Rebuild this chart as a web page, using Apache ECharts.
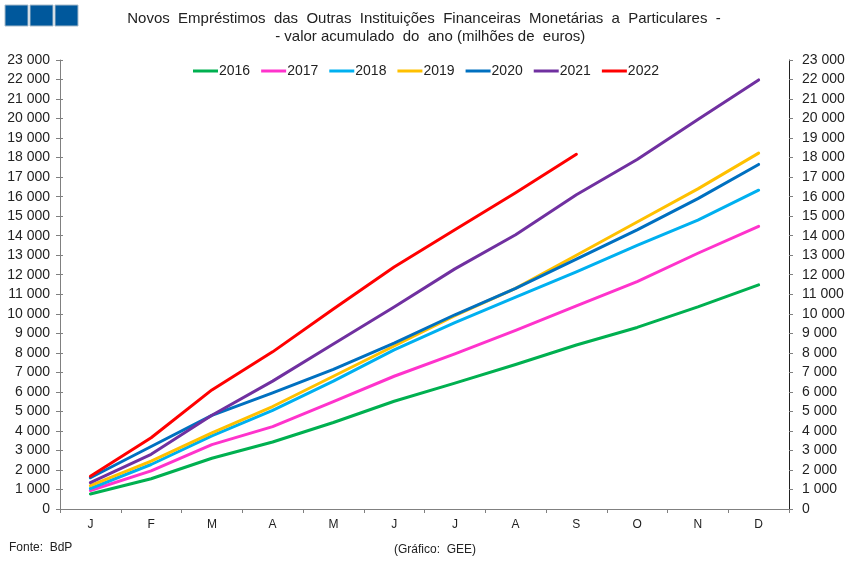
<!DOCTYPE html>
<html>
<head>
<meta charset="utf-8">
<style>html,body{margin:0;padding:0;background:#fff}#chart{width:850px;height:562px}</style>
<script src="https://cdn.jsdelivr.net/npm/echarts@6/dist/echarts.min.js"></script>
</head>
<body>
<div id="chart"></div>
<script>
// dados (milhoes de euros)
const months = ['J', 'F', 'M', 'A', 'M', 'J', 'J', 'A', 'S', 'O', 'N', 'D'];
const y2016 = [770, 1550, 2600, 3430, 4430, 5520, 6450, 7400, 8400, 9300, 10350, 11480];
const y2017 = [950, 1950, 3300, 4220, 5500, 6800, 7950, 9150, 10400, 11650, 13100, 14480];
const y2018 = [1050, 2280, 3750, 5050, 6550, 8150, 9550, 10850, 12150, 13500, 14800, 16330];
const y2019 = [1200, 2450, 3900, 5250, 6800, 8350, 9900, 11300, 13000, 14700, 16400, 18230];
const y2020 = [1600, 3200, 4800, 5950, 7150, 8500, 9950, 11300, 12800, 14300, 15900, 17650];
const y2021 = [1350, 2800, 4800, 6550, 8450, 10350, 12300, 14050, 16100, 17900, 19950, 21980];
const y2022 = [1680, 3650, 6100, 8050, 10250, 12400, 14300, 16200, 18170];
const seriesNames = ['2016', '2017', '2018', '2019', '2020', '2021', '2022'];
const seriesData = [y2016, y2017, y2018, y2019, y2020, y2021, y2022];
const colors = ['#00b050', '#ff33cc', '#00b0f0', '#ffc000', '#0070c0', '#7030a0', '#ff0000'];

const font = '"Liberation Sans", Arial, sans-serif';
const textColor = '#222';
const fmt = (v) => String(v).replace(/\B(?=(\d{3})+$)/g, ' ');

const myChart = echarts.init(document.getElementById('chart'), null, {renderer: 'canvas'});

const valueAxis = (position, color, margin) => ({
  type: 'value',
  position,
  min: 0,
  max: 23000,
  interval: 1000,
  splitLine: {show: false},
  axisLine: {show: true, onZero: false, lineStyle: {color, width: 1}},
  axisTick: {show: true, length: 4, lineStyle: {color: '#808080'}},
  axisLabel: {color: textColor, fontFamily: font, fontSize: 14, margin, formatter: fmt}
});

const option = {
  animation: false,
  backgroundColor: '#fff',
  color: colors,
  title: {
    // espacos duplos: o original tem as palavras mais afastadas
    text: 'Novos  Empréstimos  das  Outras  Instituições  Financeiras  Monetárias  a  Particulares  -\n   - valor acumulado  do  ano (milhões de  euros)',
    left: 419,
    top: 5,
    textAlign: 'center',
    textStyle: {color: textColor, fontFamily: font, fontSize: 15, fontWeight: 'normal', lineHeight: 18}
  },
  legend: {
    left: 188,
    top: 59,
    itemWidth: 25,
    itemHeight: 3,
    itemGap: 11,
    icon: 'rect',
    textStyle: {color: textColor, fontFamily: font, fontSize: 14, padding: [0, 0, 0, -4]},
    data: seriesNames
  },
  grid: {left: 60, right: 61, top: 60, bottom: 53},
  xAxis: {
    type: 'category',
    data: months,
    boundaryGap: true,
    axisLine: {lineStyle: {color: '#808080'}},
    axisTick: {show: true, length: 4, alignWithLabel: false, lineStyle: {color: '#808080'}},
    axisLabel: {color: textColor, fontFamily: font, fontSize: 12, margin: 10, interval: 0}
  },
  yAxis: [
    valueAxis('left', '#808080', 10),
    valueAxis('right', '#222', 13),
    // so para os tracos da esquerda cruzarem o eixo
    {
      type: 'value',
      position: 'left',
      min: 0,
      max: 23000,
      interval: 1000,
      splitLine: {show: false},
      axisLine: {show: false},
      axisTick: {show: true, inside: true, length: 3, lineStyle: {color: '#808080'}},
      axisLabel: {show: false}
    }
  ],
  graphic: [
    {type: 'rect', shape: {x: 5, y: 5, width: 23, height: 21}, style: {fill: '#00589c', stroke: '#a9bccb', lineWidth: 1}},
    {type: 'rect', shape: {x: 30, y: 5, width: 23, height: 21}, style: {fill: '#00589c', stroke: '#a9bccb', lineWidth: 1}},
    {type: 'rect', shape: {x: 55, y: 5, width: 23, height: 21}, style: {fill: '#00589c', stroke: '#a9bccb', lineWidth: 1}},
    {type: 'text', left: 9, top: 542, style: {text: 'Fonte:  BdP', fill: textColor, font: '12px ' + font}},
    {type: 'text', left: 394, top: 544, style: {text: '(Gráfico:  GEE)', fill: textColor, font: '12px ' + font}}
  ],
  series: seriesNames.map((name, index) => ({
    name,
    type: 'line',
    yAxisIndex: 0,
    data: seriesData[index],
    symbol: 'none',
    smooth: false,
    lineStyle: {width: 3, color: colors[index], join: 'round', cap: 'round'},
    itemStyle: {color: colors[index]}
  }))
};
myChart.setOption(option);
</script>
</body>
</html>
